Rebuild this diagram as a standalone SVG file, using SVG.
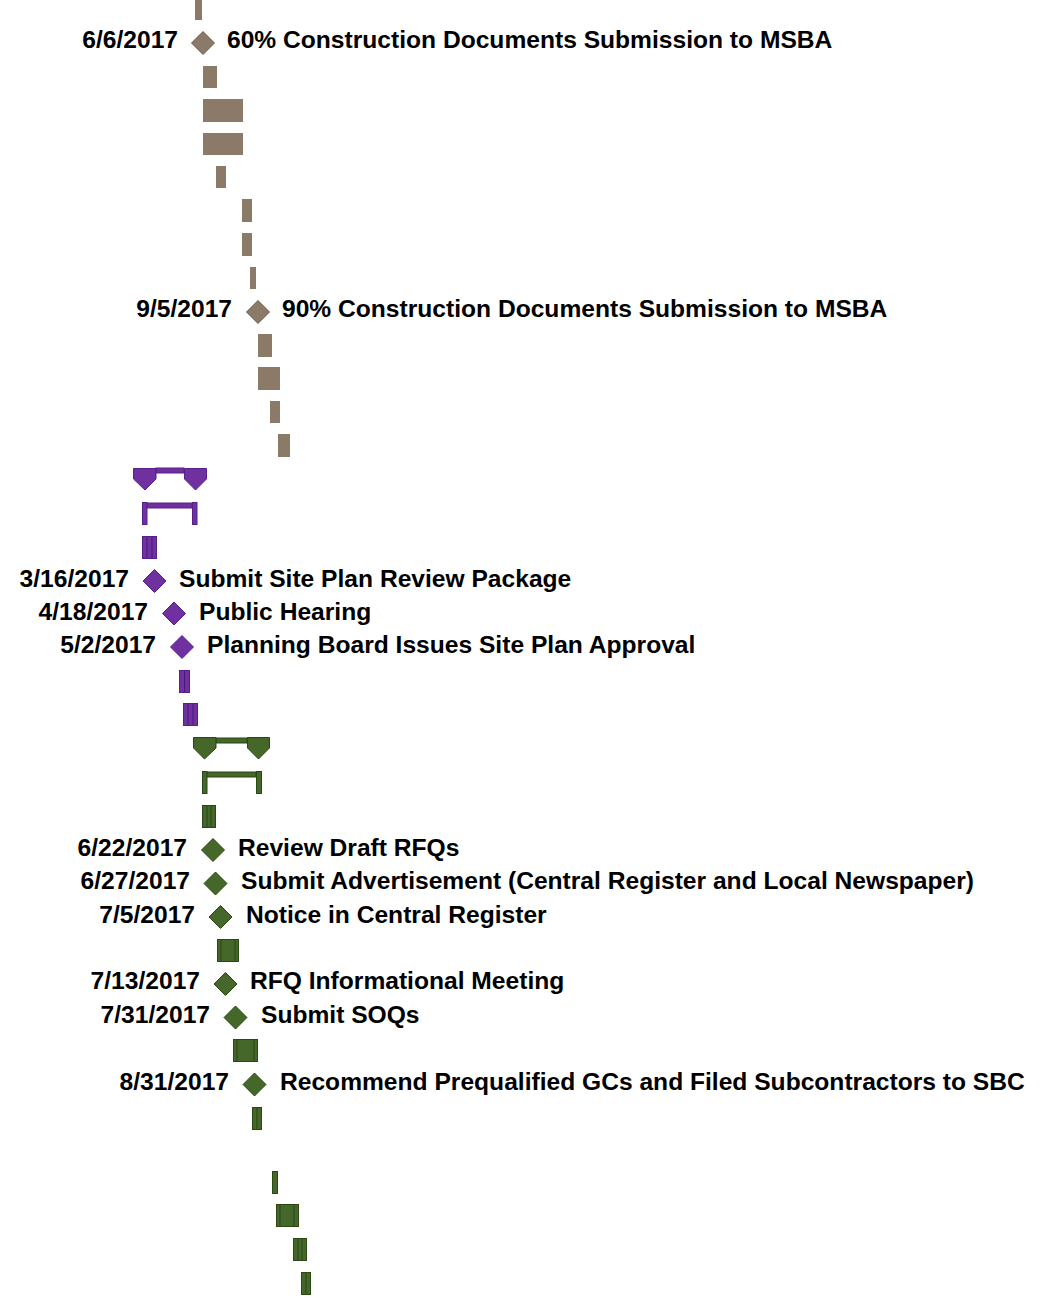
<svg xmlns="http://www.w3.org/2000/svg" width="1045" height="1311" viewBox="0 0 1045 1311">
<style>
text{font-family:"Liberation Sans",Arial,sans-serif;font-weight:bold;font-size:24.6px;fill:#000}
.d{text-anchor:end}
.br{fill:#8b7a67}
.brd{fill:#8b7a67;stroke:#6b5a48;stroke-width:1}
.pu{fill:#7030a0;stroke:#55208a;stroke-width:1}
.pl{stroke:#4a1878;stroke-width:1}
.gr{fill:#45672a;stroke:#2b4714;stroke-width:1}
.gl{stroke:#2a4614;stroke-width:1}
</style>
<rect width="1045" height="1311" fill="#fff"/>
<g id="connectors">
</g>
<g id="brown-tasks">
<rect class="br" x="195" y="0" width="7" height="20"/>
<rect class="br" x="203" y="66" width="14" height="22"/>
<rect class="br" x="203" y="99" width="40" height="23"/>
<rect class="br" x="203" y="133" width="40" height="22"/>
<rect class="br" x="216" y="166" width="10" height="22"/>
<rect class="br" x="242" y="199" width="10" height="23"/>
<rect class="br" x="242" y="233" width="10" height="23"/>
<rect class="br" x="250" y="267" width="6" height="22"/>
<rect class="br" x="258" y="334" width="14" height="23"/>
<rect class="br" x="258" y="367" width="22" height="23"/>
<rect class="br" x="270" y="401" width="10" height="22"/>
<rect class="br" x="278" y="434" width="12" height="23"/>
</g>
<g id="m-6-6-2017">
<path class="brd" d="M203,31.5 L214.5,43 L203,54.5 L191.5,43 Z"/>
<text class="d" x="178" y="48">6/6/2017</text>
<text x="227" y="48">60% Construction Documents Submission to MSBA</text>
</g>
<g id="m-9-5-2017">
<path class="brd" d="M258,300.5 L269.5,312 L258,323.5 L246.5,312 Z"/>
<text class="d" x="232" y="317">9/5/2017</text>
<text x="282" y="317">90% Construction Documents Submission to MSBA</text>
</g>
<g id="purple-summary">
<rect class="pu" x="156" y="468" width="28" height="5" stroke="none"/>
<path class="pu" d="M133.5,468.5 H156 V479 L145,490 L133.5,479 Z"/>
<path class="pu" d="M184.5,468.5 H206.5 V479 L195.5,490 L184.5,479 Z"/>
</g>
<g id="purple-group">
<rect class="pu" x="147" y="503" width="45" height="5" stroke="none"/>
<rect class="pu" x="142.5" y="502.5" width="4.5" height="22"/>
<rect class="pu" x="192.5" y="502.5" width="4.5" height="22"/>
</g>
<g id="purple-tasks">
<rect class="pu" x="142.5" y="536.5" width="14" height="22"/>
<line class="pl" x1="147" y1="537" x2="147" y2="558"/>
<line class="pl" x1="152" y1="537" x2="152" y2="558"/>
<rect class="pu" x="179.5" y="670.5" width="10" height="22"/>
<line class="pl" x1="184.5" y1="671" x2="184.5" y2="692"/>
<rect class="pu" x="183.5" y="703.5" width="14" height="22"/>
<line class="pl" x1="188" y1="704" x2="188" y2="725"/>
<line class="pl" x1="193" y1="704" x2="193" y2="725"/>
</g>
<g id="m-3-16-2017">
<path class="pu" d="M154.5,569.5 L166,581 L154.5,592.5 L143,581 Z"/>
<text class="d" x="129" y="587">3/16/2017</text>
<text x="179" y="587">Submit Site Plan Review Package</text>
</g>
<g id="m-4-18-2017">
<path class="pu" d="M174,602 L185.5,613.5 L174,625 L162.5,613.5 Z"/>
<text class="d" x="148" y="620">4/18/2017</text>
<text x="199" y="620">Public Hearing</text>
</g>
<g id="m-5-2-2017">
<path class="pu" d="M182,635.5 L193.5,647 L182,658.5 L170.5,647 Z"/>
<text class="d" x="156" y="653">5/2/2017</text>
<text x="207" y="653">Planning Board Issues Site Plan Approval</text>
</g>
<g id="green-summary">
<rect class="gr" x="216" y="738" width="31" height="5" stroke="none"/>
<path class="gr" d="M193.5,737.5 H216 V748 L204.5,759 L193.5,748 Z"/>
<path class="gr" d="M247.5,737.5 H269.5 V748 L258.5,759 L247.5,748 Z"/>
</g>
<g id="green-group">
<rect class="gr" x="207" y="772" width="49" height="5" stroke="none"/>
<rect class="gr" x="202.5" y="771.5" width="4.5" height="22"/>
<rect class="gr" x="256.5" y="771.5" width="5" height="22"/>
</g>
<g id="green-tasks">
<rect class="gr" x="202.5" y="805.5" width="13" height="22"/>
<line class="gl" x1="207" y1="806" x2="207" y2="827"/>
<line class="gl" x1="211" y1="806" x2="211" y2="827"/>
<rect class="gr" x="217.5" y="939.5" width="21" height="22"/>
<line class="gl" x1="221" y1="940" x2="221" y2="961"/>
<line class="gl" x1="235" y1="940" x2="235" y2="961"/>
<rect class="gr" x="233.5" y="1039.5" width="24" height="22"/>
<line class="gl" x1="237" y1="1040" x2="237" y2="1061"/>
<line class="gl" x1="254" y1="1040" x2="254" y2="1061"/>
<rect class="gr" x="252.5" y="1107.5" width="9" height="22"/>
<line class="gl" x1="257" y1="1108" x2="257" y2="1129"/>
<rect class="gr" x="272.5" y="1171.5" width="5" height="22"/>
<rect class="gr" x="276.5" y="1204.5" width="22" height="22"/>
<line class="gl" x1="280" y1="1205" x2="280" y2="1226"/>
<line class="gl" x1="294" y1="1205" x2="294" y2="1226"/>
<rect class="gr" x="293.5" y="1238.5" width="13" height="22"/>
<line class="gl" x1="298" y1="1239" x2="298" y2="1260"/>
<line class="gl" x1="302" y1="1239" x2="302" y2="1260"/>
<rect class="gr" x="301.5" y="1272.5" width="9" height="22"/>
<line class="gl" x1="306" y1="1273" x2="306" y2="1294"/>
</g>
<g id="m-6-22-2017">
<path class="gr" d="M213,838.5 L224.5,850 L213,861.5 L201.5,850 Z"/>
<text class="d" x="187" y="856">6/22/2017</text>
<text x="238" y="856">Review Draft RFQs</text>
</g>
<g id="m-6-27-2017">
<path class="gr" d="M215.5,872 L227,883.5 L215.5,895 L204,883.5 Z"/>
<text class="d" x="190" y="889">6/27/2017</text>
<text x="241" y="889">Submit Advertisement (Central Register and Local Newspaper)</text>
</g>
<g id="m-7-5-2017">
<path class="gr" d="M220.5,905.5 L232,917 L220.5,928.5 L209,917 Z"/>
<text class="d" x="195" y="923">7/5/2017</text>
<text x="246" y="923">Notice in Central Register</text>
</g>
<g id="m-7-13-2017">
<path class="gr" d="M225.5,972.5 L237,984 L225.5,995.5 L214,984 Z"/>
<text class="d" x="200" y="989">7/13/2017</text>
<text x="250" y="989">RFQ Informational Meeting</text>
</g>
<g id="m-7-31-2017">
<path class="gr" d="M235.5,1006 L247,1017.5 L235.5,1029 L224,1017.5 Z"/>
<text class="d" x="210" y="1023">7/31/2017</text>
<text x="261" y="1023">Submit SOQs</text>
</g>
<g id="m-8-31-2017">
<path class="gr" d="M254.5,1073 L266,1084.5 L254.5,1096 L243,1084.5 Z"/>
<text class="d" x="229" y="1090">8/31/2017</text>
<text x="280" y="1090">Recommend Prequalified GCs and Filed Subcontractors to SBC</text>
</g>
</svg>
